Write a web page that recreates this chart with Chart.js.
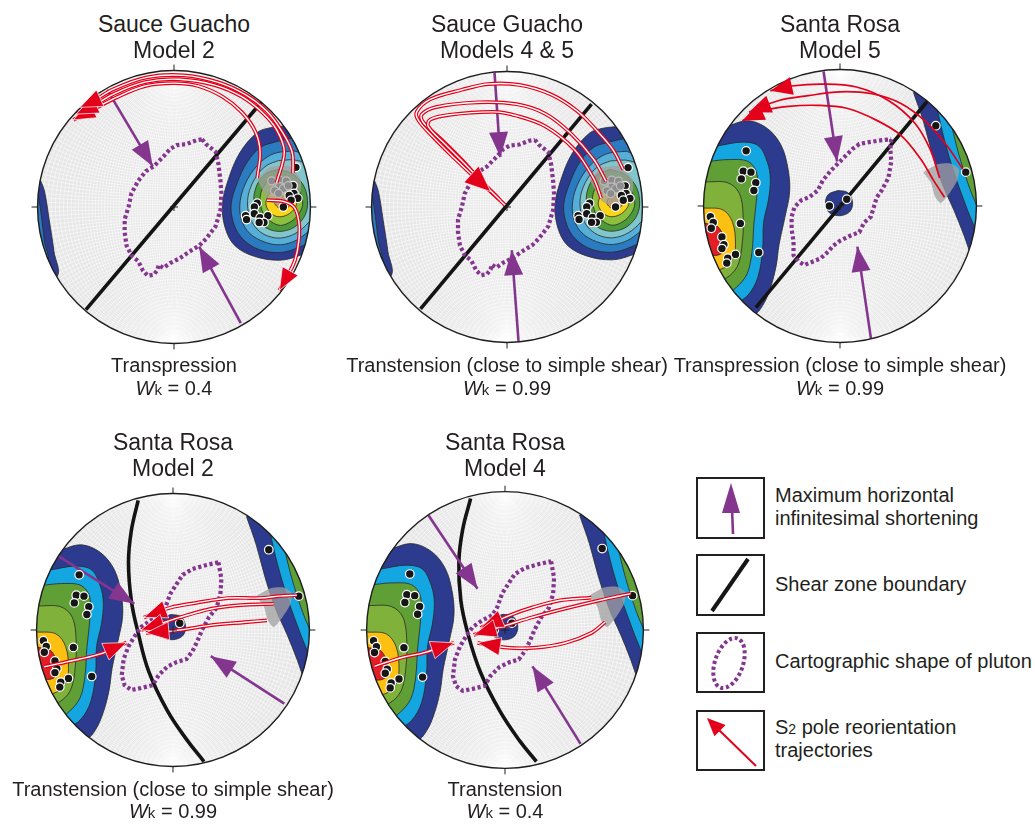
<!DOCTYPE html>
<html>
<head>
<meta charset="utf-8">
<script src="https://cdn.jsdelivr.net/npm/chart.js@4/dist/chart.umd.min.js"></script>
<style>
  html, body { margin: 0; padding: 0; background: #fff; }
  #fig { position: relative; width: 1035px; height: 824px; overflow: hidden;
         font-family: "Liberation Sans", Arial, Helvetica, sans-serif; color: #231f20; }
  .txt { position: absolute; white-space: nowrap; }
  canvas { position: absolute; }
</style>
</head>
<body>
<div id="fig">
  <svg width="1035" height="824" style="position:absolute;left:0;top:0">
    <g fill="none" stroke="#231f20" stroke-width="2">
      <rect x="697" y="478" width="67" height="60"/>
      <rect x="697" y="555" width="67" height="60"/>
      <rect x="697" y="633" width="67" height="59"/>
      <rect x="697" y="711" width="67" height="59"/>
    </g>
    <line x1="733" y1="534" x2="732" y2="508" stroke="#84368f" stroke-width="2.6"/>
    <polygon points="731,483 740,513 722,513" fill="#84368f"/>
    <line x1="712" y1="611" x2="748" y2="559" stroke="#161616" stroke-width="4"/>
    <ellipse cx="729" cy="663" rx="14" ry="26" transform="rotate(19 729 663)" fill="none"
             stroke="#84368f" stroke-width="4" stroke-dasharray="3.2 2.6"/>
    <line x1="756" y1="766" x2="719" y2="730" stroke="#e2001a" stroke-width="2"/>
    <polygon points="707,718 725.6,724.9 714.4,736.3" fill="#e2001a"/>
  </svg>
</div>
<script>
// ---- Stereonet coordinates: the primitive circle has radius 141, x east, y north ----

// Sauce Guacho S2 poles: density contours, outermost first
const sgNavy = [[118,84],[100,82],[86,77],[68,56],[56,28],[50,2],[53,-22],[63,-40],[83,-51],[109,-55],[130,-50],[150,-40],[175,0],[160,70],[130,95]];
const sgBlue = [[121,71],[104,67],[90,62],[76,47],[65,24],[59,2],[62,-18],[71,-33],[88,-44],[110,-47],[128,-42],[150,-30],[175,0],[160,60]];
const sgLightBlue = [[124,58],[106,56],[94,50],[82,38],[72,20],[68,2],[70,-14],[78,-27],[93,-36],[110,-39],[127,-34],[145,-20],[170,0],[160,45]];
const sgTeal = [[108,48],[96,43],[86,33],[78,17],[76,2],[79,-12],[86,-23],[97,-30],[111,-32],[126,-27],[139,-16],[150,0],[150,35],[128,48]];
const sgGreen = [[108,39],[96,35],[88,27],[83,14],[83,2],[86,-10],[92,-19],[101,-24],[112,-25],[124,-21],[134,-11],[138,2],[135,20],[123,34]];
const sgLightGreen = [[109,32],[99,28],[92,20],[89,10],[90,0],[93,-8],[100,-15],[110,-19],[121,-15],[129,-7],[133,3],[130,16],[121,27]];
const sgYellow = [[110,21],[102,18],[97,11],[95,3],[98,-4],[104,-9],[111,-10],[119,-7],[125,-1],[127,6],[123,14],[117,19]];
const sgOrange = [[111,12],[106,9],[104,4],[107,0],[111,-3],[116,-2],[120,3],[117,9]];
const sgWestNavy = [[-139,30],[-134,17],[-129,-13],[-124,-46],[-121,-72],[-160,-90],[-165,40]];
const sgWestBlue = [[-140,12],[-137,-10],[-134,-35],[-131,-58],[-160,-70],[-165,15]];
const sgStartZone = [[86,28],[99,41],[119,42],[131,28],[129,10],[113,1],[99,6]];
const sgPoles = [[126,41],[123,22],[124,14],[119,12],[128,9],[121,7],[113,0],[86,4],[83,0],[83,-7],[74,-9],[75,-13],[89,-11],[97,-9],[93,-16],[88,-16]];
const sgStartPoles = [[101,27],[109,28],[116,27],[109,21],[104,17],[113,19],[118,22],[108,14]];

// Santa Rosa S2 poles: western and eastern concentrations, outermost first
const srWestNavy = [[-118,82],[-95,88],[-75,80],[-61,63],[-54,40],[-52,15],[-57,-12],[-63,-40],[-66,-62],[-72,-85],[-80,-103],[-90,-113],[-165,-130],[-175,0],[-165,110]];
const srWestCyan = [[-127,62],[-101,66],[-84,62],[-75,45],[-72,28],[-74,6],[-79,-17],[-80,-45],[-85,-74],[-95,-92],[-108,-100],[-165,-110],[-170,0],[-165,80]];
const srWestGreen = [[-136,46],[-115,48],[-95,46],[-86,34],[-86,10],[-89,-18],[-91,-48],[-96,-70],[-107,-84],[-120,-92],[-165,-95],[-165,50]];
const srWestLightGreen = [[-139,25],[-116,24],[-104,13],[-100,-12],[-101,-38],[-105,-60],[-114,-72],[-128,-78],[-165,-80],[-165,25]];
const srWestYellow = [[-141,-2],[-121,-4],[-111,-17],[-108,-40],[-111,-55],[-120,-64],[-133,-67],[-165,-70],[-165,-2]];
const srWestRed = [[-140,-18],[-128,-20],[-121,-30],[-119,-43],[-124,-50],[-136,-51],[-160,-50],[-160,-18]];
const srEastNavy = [[76,117],[86,88],[95,55],[106,22],[118,-5],[128,-30],[136,-52],[150,-80],[180,0],[160,110],[110,150]];
const srEastCyan = [[100,102],[108,68],[118,34],[128,6],[137,-17],[146,-35],[180,0],[150,110]];
const srEastGreen = [[114,89],[121,60],[130,30],[139,6],[147,-8],[170,30],[150,100]];
const srCore = [[-2,16],[8,14],[13,4],[10,-6],[0,-10],[-11,-7],[-15,3],[-12,12]];
const srStartZone = [[86,35],[100,43],[114,44],[123,38],[121,26],[113,13],[104,3],[98,10],[94,24]];
const srPoles = [[-97,57],[-100,36],[-92,35],[-102,28],[-87,24],[-89,16],[-134,-11],[-131,-17],[-133,-23],[-103,-18],[-122,-32],[-120,-40],[-122,-44],[-108,-50],[-116,-54],[-117,-59],[-84,-48],[-11,0],[7,7],[99,83],[130,35]];

// Map outlines of the plutons
const plutonSauceGuacho = [[29,70],[33,65],[43,57],[46,44],[48,27],[49,14],[48,-3],[43,-20],[33,-33],[26,-40],[16,-46],[6,-53],[-4,-58],[-11,-63],[-16,-60],[-17,-65],[-21,-70],[-27,-71],[-32,-66],[-37,-56],[-44,-50],[-49,-40],[-51,-26],[-51,-13],[-47,0],[-44,14],[-37,27],[-29,37],[-21,42],[-11,52],[-4,60],[3,64],[13,65],[23,69]];
const plutonSantaRosaM5 = [[53,69],[52,59],[53,46],[50,29],[43,16],[38,9],[35,-1],[32,-11],[25,-17],[20,-27],[10,-31],[0,-36],[-7,-41],[-12,-47],[-20,-54],[-27,-57],[-37,-61],[-43,-57],[-48,-51],[-48,-37],[-50,-24],[-50,-11],[-47,-1],[-40,6],[-32,9],[-23,16],[-18,26],[-10,36],[-2,44],[7,53],[13,59],[20,64],[30,66],[43,68]];
const plutonSantaRosa = [[47,70],[50,53],[49,37],[45,23],[37,13],[30,0],[25,-12],[20,-22],[14,-30],[4,-33],[-6,-38],[-15,-47],[-21,-57],[-33,-60],[-43,-62],[-50,-57],[-53,-47],[-51,-30],[-46,-17],[-40,-7],[-33,3],[-23,10],[-13,15],[-8,23],[-3,37],[4,48],[10,57],[20,63],[34,67]];

// Shear zone boundaries (great-circle traces)
const shearN1 = [[-91,-106],[90,108]];
const shearN2 = [[-90,-106],[88,107]];
const shearN3 = [[-87,-105],[90,108]];
const shearN4 = [[-36,134],[-43,103],[-46,70],[-43,30],[-36,-3],[-25,-43],[-6,-83],[14,-113],[32,-136]];
const shearN5 = [[-35,134],[-43,103],[-47,70],[-45,30],[-38,-3],[-25,-43],[-5,-83],[15,-113],[32,-134]];

// Maximum horizontal infinitesimal shortening (tail, tip)
const shortN1a = [[-69,121],[-22,42]], shortN1b = [[69,-120],[26,-41]];
const shortN2a = [[-13,140],[-7,52]],  shortN2b = [[12,-140],[5,-45]];
const shortN3a = [[-17,139],[-3,46]],  shortN3b = [[32,-137],[18,-42]];
const shortN4a = [[-118,76],[-40,27]], shortN4b = [[115,-76],[39,-27]];
const shortN5a = [[-78,117],[-28,42]], shortN5b = [[77,-116],[28,-37]];

// S2 pole reorientation trajectories
const trajN1a = [[86,30],[89,57],[84,78],[70,98],[50,114],[25,125],[0,128],[-30,125],[-60,113],[-85,100],[-104,90]];
const trajN1b = [[106,25],[114,57],[106,80],[92,97],[70,114],[42,126],[5,132],[-30,129],[-62,117],[-86,103],[-101,96]];
const trajN1c = [[123,35],[122,57],[111,79],[96,99],[74,116],[45,129],[10,136],[-28,134],[-62,122],[-86,108],[-97,103]];
const trajN1d = [[96,7],[112,6],[124,0],[129,-15],[129,-35],[125,-55],[118,-70],[109,-86]];
const trajN2a = [[121,39],[110,60],[93,80],[73,100],[46,117],[13,127],[-20,128],[-47,122],[-80,112],[-94,99],[-92,90],[-77,73],[-55,51],[-36,33],[-17,16],[-2,2]];
const trajN2b = [[103,27],[90,50],[66,77],[40,97],[10,107],[-30,109],[-74,104],[-89,96],[-87,88],[-67,69],[-47,49],[-27,27],[-9,9]];
const trajN2c = [[98,9],[90,30],[70,60],[40,84],[10,95],[-14,99],[-60,96],[-80,91],[-82,84],[-64,65],[-44,45],[-24,24],[-7,7]];
const trajN3a = [[108,9],[97,26],[83,49],[63,73],[37,89],[7,101],[-23,104],[-53,103],[-77,99],[-101,88]];
const trajN3b = [[127,38],[110,63],[90,86],[63,106],[33,116],[0,118],[-33,114],[-63,109],[-94,97]];
const trajN3c = [[103,29],[93,59],[77,86],[50,109],[17,123],[-17,126],[-50,124],[-72,119]];
const trajN4a = [[128,36],[110,35],[90,33],[57,33],[24,28],[-3,23],[-30,13]];
const trajN4b = [[104,27],[74,26],[40,22],[7,13],[-33,0]];
const trajN4c = [[97,10],[74,8],[40,5],[7,0],[-28,-3]];
const trajN4d = [[-133,-38],[-110,-33],[-76,-25],[-48,-13]];
const trajN5a = [[88,33],[55,30],[28,23],[5,15],[-25,2]];
const trajN5b = [[128,37],[95,30],[62,22],[28,13],[2,5],[-32,-5]];
const trajN5c = [[102,8],[88,-3],[62,-13],[32,-18],[2,-18],[-28,-13]];
const trajN5d = [[-133,-37],[-105,-28],[-82,-23],[-52,-13]];

// ---- styling ----
const NET_UNIT = 141;   // primitive radius in data units
const HALF = 170;       // half size of every chart canvas (px)
const PURPLE = '#84368f';
const RED = '#e2001a';
const START_GREY = 'rgba(160,160,160,0.75)';
const C = {
  navy: '#2c3b8e', blue: '#2a7bbf', lightBlue: '#55afd9', teal: '#80c6cb',
  green: '#4d9a3a', lightGreen: '#8bbf3e', yellow: '#fbd417', orange: '#f39320',
  cyan: '#14a6e0', srGreen: '#5f9f35', srLightGreen: '#80b13a', srYellow: '#fcc012', srRed: '#e31e24'
};

const closed = a => a.concat([a[0]]);
const xy = a => a.map(([x, y]) => ({x, y}));

function contour(data, color) {
  return {data: xy(closed(data)), showLine: true, fill: 'shape', backgroundColor: color,
          borderColor: '#2a2a2a', borderWidth: 0.8, pointRadius: 0, tension: 0.35};
}
function zone(data, color) {
  return {data: xy(closed(data)), showLine: true, fill: 'shape', backgroundColor: color,
          borderColor: 'rgba(0,0,0,0)', borderWidth: 0, pointRadius: 0, tension: 0.2};
}
function stroke(data, color, width, extra) {
  return Object.assign({data: xy(data), showLine: true, fill: false, borderColor: color,
          borderWidth: width, pointRadius: 0, tension: 0.35}, extra || {});
}
function poles(data, fill, edge, radius) {
  return {data: xy(data), showLine: false, pointRadius: radius, pointStyle: 'circle',
          backgroundColor: fill, borderColor: edge, borderWidth: 1.2};
}
function pluton(data) {
  return stroke(closed(data), PURPLE, 4.2, {tension: 0, borderDash: [3.2, 2.6]});
}
function shear(data) {
  return stroke(data, '#141414', 3.6, {tension: 0.4});
}
function shortening(data) {
  return stroke(data, PURPLE, 2.6, {tension: 0, arrowHead: {length: 25, half: 9.5, color: PURPLE}});
}
// hollow (outlined) trajectory: red band with a white core
function hollow(data, head) {
  return [stroke(data, RED, 3.8, {arrowHead: Object.assign({color: RED, edge: '#ffffff'}, head)}),
          stroke(data, '#ffffff', 1.4)];
}
function thin(data, head) {
  return [stroke(data, RED, 1.7, {arrowHead: Object.assign({color: RED}, head)})];
}

function sauceGuachoContours() {
  return [
    contour(sgWestNavy, C.navy), contour(sgWestBlue, C.blue),
    contour(sgNavy, C.navy), contour(sgBlue, C.blue), contour(sgLightBlue, C.lightBlue),
    contour(sgTeal, C.teal), contour(sgGreen, C.green), contour(sgLightGreen, C.lightGreen),
    contour(sgYellow, C.yellow), contour(sgOrange, C.orange),
    zone(sgStartZone, START_GREY)
  ];
}
function santaRosaContours() {
  return [
    contour(srWestNavy, C.navy), contour(srWestCyan, C.cyan), contour(srWestGreen, C.srGreen),
    contour(srWestLightGreen, C.srLightGreen), contour(srWestYellow, C.srYellow), contour(srWestRed, C.srRed),
    contour(srEastNavy, C.navy), contour(srEastCyan, C.cyan), contour(srEastGreen, C.srGreen),
    contour(srCore, C.navy),
    zone(srStartZone, START_GREY)
  ];
}
const sgPoleLayers = () => [poles(sgPoles, '#161616', '#ffffff', 4.3), poles(sgStartPoles, '#8c8c8c', '#bdbdbd', 4)];
const srPoleLayers = () => [poles(srPoles, '#161616', '#ffffff', 4.3)];

const bigHead = {length: 22, half: 9};
const midHead = {length: 23, half: 9};

const NETS = [
  { cx: 174, cy: 207, r: 141, title: ['Sauce Guacho', 'Model 2'], caption: 'Transpression', wk: '0.4', row: 0,
    layers: () => [...sauceGuachoContours(), shear(shearN1), pluton(plutonSauceGuacho),
      shortening(shortN1a), shortening(shortN1b), ...sgPoleLayers(),
      ...hollow(trajN1a, bigHead), ...hollow(trajN1b, bigHead), ...hollow(trajN1c, bigHead), ...hollow(trajN1d, bigHead)] },
  { cx: 507, cy: 207, r: 140, title: ['Sauce Guacho', 'Models 4 & 5'], caption: 'Transtension (close to simple shear)', wk: '0.99', row: 0,
    layers: () => [...sauceGuachoContours(), shear(shearN2), pluton(plutonSauceGuacho),
      shortening(shortN2a), shortening(shortN2b), ...sgPoleLayers(),
      ...hollow(trajN2a, {length: 26, half: 11, at: 14}), ...hollow(trajN2b, null), ...hollow(trajN2c, null)] },
  { cx: 840, cy: 206, r: 141, title: ['Santa Rosa', 'Model 5'], caption: 'Transpression (close to simple shear)', wk: '0.99', row: 0,
    layers: () => [...santaRosaContours(), shear(shearN3), pluton(plutonSantaRosaM5),
      shortening(shortN3a), shortening(shortN3b), ...srPoleLayers(),
      ...thin(trajN3a, bigHead), ...thin(trajN3b, bigHead), ...thin(trajN3c, bigHead)] },
  { cx: 173, cy: 630, r: 141, title: ['Santa Rosa', 'Model 2'], caption: 'Transtension (close to simple shear)', wk: '0.99', row: 1,
    layers: () => [...santaRosaContours(), shear(shearN4), pluton(plutonSantaRosa),
      shortening(shortN4a), shortening(shortN4b), ...srPoleLayers(),
      ...hollow(trajN4a, midHead), ...hollow(trajN4b, midHead), ...hollow(trajN4c, midHead), ...hollow(trajN4d, midHead)] },
  { cx: 505, cy: 630, r: 143, title: ['Santa Rosa', 'Model 4'], caption: 'Transtension', wk: '0.4', row: 1,
    layers: () => [...santaRosaContours(), shear(shearN5), pluton(plutonSantaRosa),
      shortening(shortN5a), shortening(shortN5b), ...srPoleLayers(),
      ...hollow(trajN5a, midHead), ...hollow(trajN5b, midHead), ...hollow(trajN5c, midHead), ...hollow(trajN5d, midHead)] }
];

// ---- stereonet plugin: net background, clipping, rim, ticks and arrowheads ----
function netGeom(chart) {
  const xs = chart.scales.x, ys = chart.scales.y;
  const cx = xs.getPixelForValue(0), cy = ys.getPixelForValue(0);
  return {cx, cy, R: xs.getPixelForValue(NET_UNIT) - cx};
}
function drawGrid(ctx, cx, cy, R) {
  ctx.strokeStyle = 'rgba(255,255,255,0.95)';
  ctx.lineWidth = 0.55;
  for (let a = 2; a < 90; a += 2) {
    const x0 = R * Math.tan(a * Math.PI / 360);
    const xc = (x0 * x0 - R * R) / (2 * x0), rr = (x0 * x0 + R * R) / (2 * x0);
    for (const s of [1, -1]) { ctx.beginPath(); ctx.arc(cx + s * xc, cy, rr, 0, 2 * Math.PI); ctx.stroke(); }
    const b = a * Math.PI / 180;
    const yc = R / Math.cos(b), sr = R * Math.tan(b);
    for (const s of [1, -1]) { ctx.beginPath(); ctx.arc(cx, cy + s * yc, sr, 0, 2 * Math.PI); ctx.stroke(); }
  }
  ctx.beginPath();
  ctx.moveTo(cx - R, cy); ctx.lineTo(cx + R, cy);
  ctx.moveTo(cx, cy - R); ctx.lineTo(cx, cy + R);
  ctx.stroke();
}
function drawHead(ctx, tip, from, h) {
  const dx = tip.x - from.x, dy = tip.y - from.y, d = Math.hypot(dx, dy) || 1;
  const ux = dx / d, uy = dy / d;
  const bx = tip.x - ux * h.length, by = tip.y - uy * h.length;
  ctx.beginPath();
  ctx.moveTo(tip.x, tip.y);
  ctx.lineTo(bx - uy * h.half, by + ux * h.half);
  ctx.lineTo(bx + uy * h.half, by - ux * h.half);
  ctx.closePath();
  ctx.fillStyle = h.color;
  ctx.fill();
  if (h.edge) { ctx.strokeStyle = h.edge; ctx.lineWidth = 0.7; ctx.stroke(); }
}
const stereonet = {
  id: 'stereonet',
  beforeDatasetsDraw(chart) {
    const {ctx} = chart;
    const {cx, cy, R} = netGeom(chart);
    ctx.save();
    ctx.beginPath();
    ctx.arc(cx, cy, R, 0, 2 * Math.PI);
    ctx.clip();
    ctx.fillStyle = '#e7e7e7';
    ctx.fillRect(cx - R, cy - R, 2 * R, 2 * R);
    drawGrid(ctx, cx, cy, R);
  },
  afterDatasetsDraw(chart) {
    const {ctx} = chart;
    const {cx, cy, R} = netGeom(chart);
    ctx.restore();
    ctx.save();
    ctx.strokeStyle = '#1e1e1e';
    ctx.lineWidth = 1.4;
    ctx.beginPath(); ctx.arc(cx, cy, R, 0, 2 * Math.PI); ctx.stroke();
    ctx.lineWidth = 1;
    ctx.beginPath();
    ctx.moveTo(cx, cy - R); ctx.lineTo(cx, cy - R - 6);
    ctx.moveTo(cx, cy + R); ctx.lineTo(cx, cy + R + 6);
    ctx.moveTo(cx - R, cy); ctx.lineTo(cx - R - 6, cy);
    ctx.moveTo(cx + R, cy); ctx.lineTo(cx + R + 6, cy);
    ctx.moveTo(cx - 4, cy); ctx.lineTo(cx + 4, cy);
    ctx.moveTo(cx, cy - 4); ctx.lineTo(cx, cy + 4);
    ctx.stroke();
    chart.data.datasets.forEach((ds, i) => {
      const h = ds.arrowHead;
      if (!h || !h.length) return;
      const pts = chart.getDatasetMeta(i).data;
      const k = h.at == null ? pts.length - 1 : h.at;
      drawHead(ctx, pts[k], pts[k - 1], h);
    });
    ctx.restore();
  }
};

// ---- build the figure ----
const fig = document.getElementById('fig');

function put(html, x, baseline, size, center) {
  const d = document.createElement('div');
  d.className = 'txt';
  d.innerHTML = html;
  d.style.fontSize = size + 'px';
  d.style.lineHeight = size + 'px';
  d.style.left = x + 'px';
  d.style.top = (baseline - 0.8465 * size) + 'px';
  if (center) d.style.transform = 'translateX(-50%)';
  fig.appendChild(d);
}

const ROWS = [
  {title: [32, 58], caption: [372, 395]},
  {title: [450, 476], caption: [796, 818]}
];

NETS.forEach(net => {
  const canvas = document.createElement('canvas');
  canvas.width = 2 * HALF;
  canvas.height = 2 * HALF;
  canvas.style.left = (net.cx - HALF) + 'px';
  canvas.style.top = (net.cy - HALF) + 'px';
  fig.appendChild(canvas);

  const layers = net.layers();
  layers.forEach((d, i) => { d.order = layers.length - i; });
  const span = HALF * NET_UNIT / net.r;

  new Chart(canvas, {
    type: 'scatter',
    data: {datasets: layers},
    options: {
      responsive: false,
      animation: false,
      events: [],
      layout: {padding: 0},
      elements: {line: {capBezierPoints: false}},
      plugins: {legend: {display: false}, tooltip: {enabled: false}},
      scales: {
        x: {type: 'linear', min: -span, max: span, display: false},
        y: {type: 'linear', min: -span, max: span, display: false}
      }
    },
    plugins: [stereonet]
  });

  const row = ROWS[net.row];
  put(net.title[0], net.cx, row.title[0], 23, true);
  put(net.title[1], net.cx, row.title[1], 23, true);
  put(net.caption, net.cx, row.caption[0], 20, true);
  put('<i>W</i><span style="font-size:15px">k</span> = ' + net.wk, net.cx, row.caption[1], 20, true);
});

// legend texts
put('Maximum horizontal', 775, 502, 20, false);
put('infinitesimal shortening', 775, 525, 20, false);
put('Shear zone boundary', 775, 591, 20, false);
put('Cartographic shape of pluton', 775, 668, 20, false);
put('S<span style="font-size:14px">2</span> pole reorientation', 775, 734, 20, false);
put('trajectories', 775, 757, 20, false);
</script>
</body>
</html>
